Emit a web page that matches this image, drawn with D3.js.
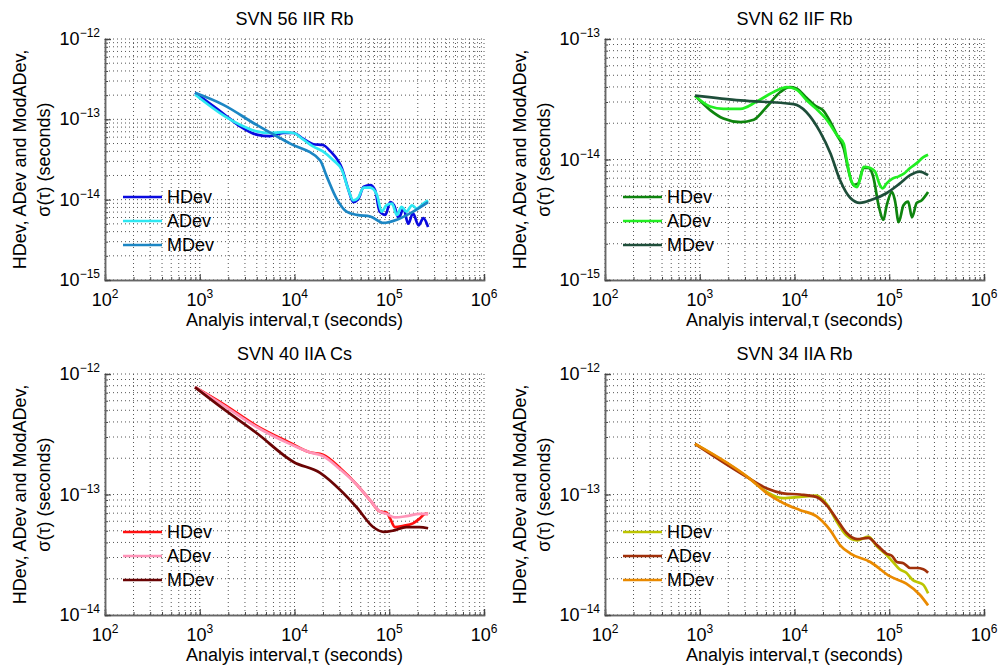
<!DOCTYPE html>
<html>
<head>
<meta charset="utf-8">
<script src="https://cdn.jsdelivr.net/npm/d3@7"></script>
<style>
  body { margin: 0; background: #fff; }
  svg { display: block; font-family: "Liberation Sans", Arial, Helvetica, sans-serif; }
</style>
</head>
<body>
<svg width="1004" height="671"></svg>
<script>
// values, as [log10(tau), log10(sigma)]
var svn56_hdev = [[2.95,-12.67],[3.25,-12.93],[3.43,-13.09],[3.60,-13.19],[3.74,-13.21],[3.88,-13.17],[3.99,-13.17],[4.09,-13.24],[4.20,-13.31],[4.30,-13.32],[4.38,-13.40],[4.50,-13.61],[4.57,-13.88],[4.62,-14.03],[4.67,-14.00],[4.73,-13.84],[4.80,-13.82],[4.85,-13.88],[4.90,-14.15],[4.96,-14.19],[5.01,-14.03],[5.05,-14.07],[5.10,-14.23],[5.15,-14.11],[5.20,-14.30],[5.25,-14.17],[5.31,-14.32],[5.36,-14.23],[5.41,-14.34]];
var svn56_adev = [[2.95,-12.69],[3.25,-12.95],[3.43,-13.07],[3.60,-13.15],[3.74,-13.17],[3.88,-13.16],[3.99,-13.17],[4.09,-13.25],[4.20,-13.34],[4.30,-13.40],[4.41,-13.51],[4.50,-13.63],[4.57,-13.88],[4.62,-14.01],[4.67,-13.98],[4.73,-13.85],[4.80,-13.85],[4.87,-13.94],[4.92,-14.15],[4.97,-14.07],[5.03,-14.05],[5.08,-14.19],[5.13,-14.09],[5.18,-14.15],[5.24,-14.07],[5.29,-14.11],[5.36,-14.05],[5.41,-14.01]];
var svn56_mdev = [[2.95,-12.67],[3.25,-12.82],[3.60,-13.07],[3.95,-13.30],[4.27,-13.51],[4.34,-13.71],[4.45,-14.00],[4.55,-14.15],[4.66,-14.19],[4.80,-14.21],[4.94,-14.29],[5.08,-14.25],[5.22,-14.17],[5.41,-14.03]];

var svn62_hdev = [[2.95,-13.47],[3.11,-13.59],[3.25,-13.66],[3.43,-13.69],[3.57,-13.67],[3.71,-13.56],[3.85,-13.44],[3.95,-13.40],[4.02,-13.41],[4.13,-13.49],[4.23,-13.56],[4.30,-13.59],[4.38,-13.69],[4.45,-13.80],[4.52,-13.91],[4.57,-14.09],[4.62,-14.21],[4.67,-14.20],[4.73,-14.07],[4.78,-14.07],[4.83,-14.14],[4.89,-14.39],[4.94,-14.50],[4.97,-14.39],[5.03,-14.27],[5.06,-14.34],[5.10,-14.52],[5.15,-14.38],[5.20,-14.35],[5.24,-14.48],[5.29,-14.36],[5.34,-14.34],[5.41,-14.27]];
var svn62_adev = [[2.95,-13.47],[3.11,-13.56],[3.25,-13.58],[3.43,-13.58],[3.60,-13.52],[3.78,-13.44],[3.92,-13.40],[4.02,-13.42],[4.13,-13.51],[4.23,-13.58],[4.34,-13.67],[4.45,-13.80],[4.52,-13.87],[4.55,-14.00],[4.60,-14.18],[4.66,-14.23],[4.69,-14.17],[4.73,-14.06],[4.80,-14.07],[4.85,-14.10],[4.90,-14.21],[4.93,-14.24],[4.97,-14.20],[5.03,-14.16],[5.10,-14.14],[5.15,-14.12],[5.22,-14.07],[5.29,-14.03],[5.36,-13.98],[5.41,-13.96]];
var svn62_mdev = [[2.95,-13.47],[3.43,-13.51],[3.99,-13.54],[4.27,-13.77],[4.38,-13.95],[4.48,-14.17],[4.59,-14.32],[4.69,-14.36],[4.83,-14.33],[4.97,-14.28],[5.11,-14.20],[5.22,-14.13],[5.32,-14.10],[5.41,-14.13]];

var svn40_hdev = [[2.95,-12.11],[3.25,-12.25],[3.60,-12.43],[3.95,-12.57],[4.16,-12.65],[4.30,-12.67],[4.48,-12.78],[4.66,-12.92],[4.81,-13.06],[4.90,-13.14],[4.97,-13.15],[5.01,-13.20],[5.06,-13.27],[5.15,-13.26],[5.25,-13.24],[5.32,-13.20],[5.38,-13.16],[5.41,-13.16]];
var svn40_adev = [[2.95,-12.11],[3.25,-12.26],[3.60,-12.44],[3.95,-12.58],[4.16,-12.65],[4.30,-12.68],[4.48,-12.79],[4.66,-12.92],[4.81,-13.06],[4.90,-13.14],[4.97,-13.16],[5.06,-13.19],[5.18,-13.18],[5.32,-13.16],[5.41,-13.16]];
var svn40_mdev = [[2.95,-12.11],[3.25,-12.29],[3.60,-12.49],[3.99,-12.73],[4.27,-12.82],[4.48,-12.96],[4.66,-13.11],[4.83,-13.27],[4.94,-13.31],[5.04,-13.30],[5.18,-13.27],[5.32,-13.27],[5.41,-13.28]];

var svn34_hdev = [[2.95,-12.58],[3.53,-12.87],[3.71,-12.98],[3.88,-13.03],[4.06,-13.02],[4.23,-13.01],[4.34,-13.08],[4.45,-13.23],[4.55,-13.34],[4.66,-13.38],[4.78,-13.35],[4.87,-13.43],[4.97,-13.50],[5.04,-13.56],[5.11,-13.62],[5.18,-13.65],[5.25,-13.71],[5.31,-13.73],[5.36,-13.75],[5.41,-13.82]];
var svn34_adev = [[2.95,-12.58],[3.53,-12.87],[3.71,-12.95],[3.88,-12.99],[4.06,-13.00],[4.23,-13.02],[4.34,-13.09],[4.45,-13.21],[4.55,-13.32],[4.66,-13.37],[4.78,-13.36],[4.87,-13.42],[4.97,-13.49],[5.03,-13.51],[5.08,-13.56],[5.15,-13.57],[5.22,-13.61],[5.29,-13.61],[5.36,-13.62],[5.41,-13.65]];
var svn34_mdev = [[2.95,-12.58],[3.53,-12.87],[3.71,-12.99],[3.88,-13.07],[4.06,-13.13],[4.23,-13.18],[4.38,-13.30],[4.48,-13.42],[4.59,-13.49],[4.80,-13.56],[5.01,-13.68],[5.18,-13.74],[5.32,-13.83],[5.41,-13.92]];

var seriesNames = ["HDev", "ADev", "MDev"];
var xMajor = [1e2, 1e3, 1e4, 1e5, 1e6];

var panels = [
  { title: "SVN 56 IIR Rb", series: [svn56_hdev, svn56_adev, svn56_mdev],
    colors: ["#0a0ae0", "#2ee8f2", "#1c86c4"], yDomain: [1e-15, 1e-12], left: 105, top: 39 },
  { title: "SVN 62 IIF Rb", series: [svn62_hdev, svn62_adev, svn62_mdev],
    colors: ["#0e840e", "#22ee22", "#1e4e3a"], yDomain: [1e-15, 1e-13], left: 605, top: 39 },
  { title: "SVN 40 IIA Cs", series: [svn40_hdev, svn40_adev, svn40_mdev],
    colors: ["#ff1010", "#ff94b8", "#6a0404"], yDomain: [1e-14, 1e-12], left: 105, top: 374 },
  { title: "SVN 34 IIA Rb", series: [svn34_hdev, svn34_adev, svn34_mdev],
    colors: ["#bcc400", "#a0300a", "#ea8a00"], yDomain: [1e-14, 1e-12], left: 605, top: 374 }
];

var width = 379, height = 241;
var svg = d3.select("svg");

function expOf(v) {
  var e = Math.round(Math.log10(v));
  return (e < 0 ? "\u2212" : "") + Math.abs(e);
}

panels.forEach(function(p) {
  var x = d3.scaleLog().domain([1e2, 1e6]).range([0, width]);
  var y = d3.scaleLog().domain(p.yDomain).range([height, 0]);

  var g = svg.append("g").attr("transform", "translate(" + p.left + "," + p.top + ")");

  // dotted grid, majors and minors
  g.append("g").selectAll("line")
    .data(x.ticks())
    .enter().append("line")
    .attr("x1", function(d) { return x(d); })
    .attr("x2", function(d) { return x(d); })
    .attr("y1", 0).attr("y2", height)
    .attr("stroke", "#555").attr("stroke-width", 1)
    .attr("stroke-dasharray", "1,3");

  g.append("g").selectAll("line")
    .data(y.ticks())
    .enter().append("line")
    .attr("y1", function(d) { return y(d); })
    .attr("y2", function(d) { return y(d); })
    .attr("x1", 0).attr("x2", width)
    .attr("stroke", "#555").attr("stroke-width", 1)
    .attr("stroke-dasharray", "1,3");

  var yMajor = y.ticks().filter(function(d) {
    return Math.abs(Math.log10(d) - Math.round(Math.log10(d))) < 1e-6;
  });

  // axes with inward ticks
  g.append("g")
    .attr("transform", "translate(0," + height + ")")
    .call(d3.axisBottom(x).tickValues(x.ticks()).tickSize(-3).tickFormat(""));
  g.append("g")
    .attr("transform", "translate(0," + height + ")")
    .call(d3.axisBottom(x).tickValues(xMajor).tickSize(-6).tickFormat(""));
  g.append("g")
    .call(d3.axisLeft(y).tickValues(y.ticks()).tickSize(-3).tickFormat(""));
  g.append("g")
    .call(d3.axisLeft(y).tickValues(yMajor).tickSize(-6).tickFormat(""));
  g.selectAll(".domain").attr("stroke", "#666").attr("stroke-width", 1.5);
  g.selectAll(".tick line").attr("stroke", "#444");

  // tick labels with superscript exponents
  var xl = g.append("g").selectAll("text")
    .data(xMajor)
    .enter().append("text")
    .attr("x", function(d) { return x(d); })
    .attr("y", height + 26)
    .attr("text-anchor", "middle")
    .style("font-size", "18px");
  xl.append("tspan").text("10");
  xl.append("tspan").attr("dy", -8).style("font-size", "12px").text(function(d) { return expOf(d); });

  var yl = g.append("g").selectAll("text")
    .data(yMajor)
    .enter().append("text")
    .attr("x", -5)
    .attr("y", function(d) { return y(d) + 6; })
    .attr("text-anchor", "end")
    .style("font-size", "18px");
  yl.append("tspan").text("10");
  yl.append("tspan").attr("dy", -8).style("font-size", "12px").text(function(d) { return expOf(d); });

  // titles and axis labels
  g.append("text")
    .attr("x", width / 2).attr("y", -14)
    .attr("text-anchor", "middle")
    .style("font-size", "18px")
    .text(p.title);

  g.append("text")
    .attr("x", width / 2).attr("y", height + 46)
    .attr("text-anchor", "middle")
    .style("font-size", "18px")
    .text("Analyis interval,\u03c4 (seconds)");

  g.append("text")
    .attr("transform", "translate(-79," + (height / 2) + ") rotate(-90)")
    .attr("text-anchor", "middle")
    .style("font-size", "18px")
    .text("HDev, ADev and ModADev,");
  g.append("text")
    .attr("transform", "translate(-55," + (height / 2) + ") rotate(-90)")
    .attr("text-anchor", "middle")
    .style("font-size", "18px")
    .text("\u03c3(\u03c4) (seconds)");

  // curves
  var line = d3.line()
    .x(function(d) { return x(Math.pow(10, d[0])); })
    .y(function(d) { return y(Math.pow(10, d[1])); })
    .curve(d3.curveMonotoneX);

  p.series.forEach(function(s, i) {
    g.append("path")
      .datum(s)
      .attr("d", line)
      .attr("fill", "none")
      .attr("stroke", p.colors[i])
      .attr("stroke-width", 2.7)
      .attr("stroke-linejoin", "round");
  });

  // legend, no box
  var leg = g.append("g").selectAll("g")
    .data(seriesNames)
    .enter().append("g")
    .attr("transform", function(d, i) { return "translate(18," + (158 + i * 24) + ")"; });
  leg.append("line")
    .attr("x1", 0).attr("x2", 39)
    .attr("stroke", function(d, i) { return p.colors[i]; })
    .attr("stroke-width", 2.7);
  leg.append("text")
    .attr("x", 44).attr("y", 6)
    .style("font-size", "18px")
    .text(function(d) { return d; });
});
</script>
</body>
</html>
